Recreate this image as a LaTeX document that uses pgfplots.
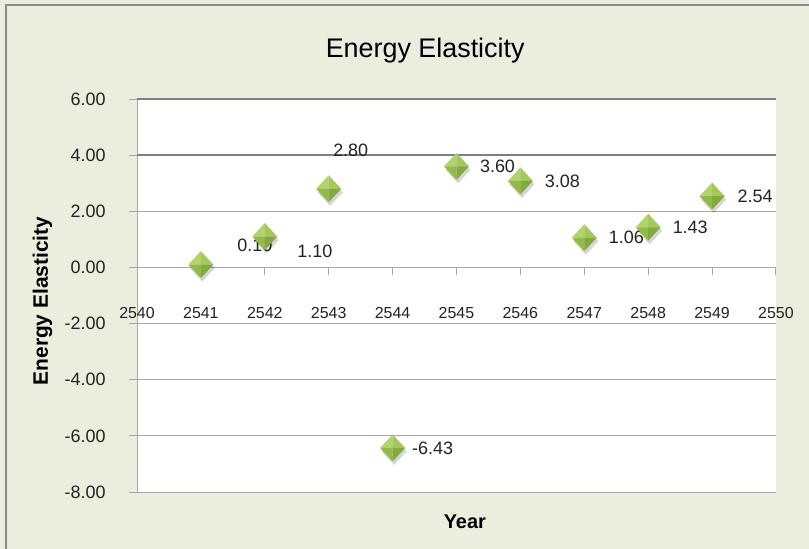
\documentclass[border=0pt]{standalone}
\usepackage{pgfplots}
\pgfplotsset{compat=1.18}
\usepackage{pgfplotstable}
\usepackage{fontspec}
\setmainfont{Liberation Sans}

\definecolor{chartbg}{HTML}{EBEEDF}
\definecolor{framegray}{HTML}{8A8A8A}
\definecolor{gridgray}{HTML}{A8A8A8}
\definecolor{griddark}{HTML}{7E7E7E}
\definecolor{gemA}{HTML}{B3D26C}
\definecolor{gemB}{HTML}{A3C85C}
\definecolor{gemC}{HTML}{94B94B}
\definecolor{gemD}{HTML}{84A93E}
\definecolor{labelgray}{HTML}{222222}

% faceted diamond marker with a soft drop shadow
\pgfdeclareplotmark{gem}{%
  \begin{pgfscope}
    \pgfsetfillopacity{0.16}\pgfsetfillcolor{black}
    \pgfpathmoveto{\pgfpoint{1.5bp}{10bp}}
    \pgfpathlineto{\pgfpoint{14bp}{-3.5bp}}
    \pgfpathlineto{\pgfpoint{1.5bp}{-17bp}}
    \pgfpathlineto{\pgfpoint{-11bp}{-3.5bp}}
    \pgfpathclose\pgfusepath{fill}
  \end{pgfscope}
  \pgfsetfillcolor{gemA}
  \pgfpathmoveto{\pgfpoint{0bp}{0bp}}\pgfpathlineto{\pgfpoint{0bp}{13.5bp}}\pgfpathlineto{\pgfpoint{-12.5bp}{0bp}}\pgfpathclose\pgfusepath{fill}
  \pgfsetfillcolor{gemB}
  \pgfpathmoveto{\pgfpoint{0bp}{0bp}}\pgfpathlineto{\pgfpoint{0bp}{13.5bp}}\pgfpathlineto{\pgfpoint{12.5bp}{0bp}}\pgfpathclose\pgfusepath{fill}
  \pgfsetfillcolor{gemC}
  \pgfpathmoveto{\pgfpoint{0bp}{0bp}}\pgfpathlineto{\pgfpoint{-12.5bp}{0bp}}\pgfpathlineto{\pgfpoint{0bp}{-13.5bp}}\pgfpathclose\pgfusepath{fill}
  \pgfsetfillcolor{gemD}
  \pgfpathmoveto{\pgfpoint{0bp}{0bp}}\pgfpathlineto{\pgfpoint{12.5bp}{0bp}}\pgfpathlineto{\pgfpoint{0bp}{-13.5bp}}\pgfpathclose\pgfusepath{fill}
}

% year, elasticity, label offsets (bp)
\pgfplotstableread{
year  value  dx  dy
2541  0.10   54  19
2542  1.10   50  -15
2543  2.80   22  38
2544  -6.43  40  0
2545  3.60   41  0
2546  3.08   42  0
2547  1.06   42  0
2548  1.43   42  0
2549  2.54   43  0
}\elasticity

\begin{document}
\begin{tikzpicture}
  \useasboundingbox (0,0) rectangle (809bp,549bp);
  \fill[chartbg] (0,0) rectangle (809bp,549bp);
  \draw[framegray, line width=2.2bp] (6bp,0) -- (6bp,544bp) -- (809bp,544bp);
  \begin{axis}[
    at={(137bp,57bp)}, anchor=south west,
    scale only axis, width=639bp, height=393bp,
    xmin=2540, xmax=2550, ymin=-8, ymax=6,
    xtick={2540,...,2550}, ytick={-8,-6,...,6},
    axis x line=middle, axis y line=left,
    hide obscured x ticks=false,
    x axis line style={-, gridgray, line width=0.9bp},
    y axis line style={-, gridgray, line width=0.9bp},
    axis background/.style={fill=white},
    tick align=outside, major tick length=8bp,
    tick style={gridgray, line width=0.9bp},
    ymajorgrids, grid style={gridgray, line width=0.9bp},
    extra y ticks={4,6}, extra y tick labels={},
    extra y tick style={grid style={griddark, line width=1.4bp}},
    /pgf/number format/assume math mode=true,
    xticklabel={\pgfmathprintnumber[1000 sep={},precision=0,fixed]{\tick}},
    yticklabel={\pgfmathprintnumber[fixed,fixed zerofill,precision=2]{\tick}},
    x tick label style={font=\fontsize{16}{18}\selectfont, text=labelgray, anchor=center, yshift=-38bp},
    y tick label style={font=\fontsize{18}{20}\selectfont, text=labelgray, xshift=-20bp},
    title={Energy Elasticity},
    title style={font=\fontsize{27}{30}\selectfont, at={(axis description cs:0.451,1.107)}, anchor=center},
    xlabel={Year},
    xlabel style={font=\bfseries\fontsize{20}{22}\selectfont, at={(axis description cs:0.513,-0.076)}, anchor=center},
    ylabel={Energy Elasticity},
    ylabel style={font=\bfseries\fontsize{21}{24}\selectfont, at={(axis description cs:-0.148,0.486)}, anchor=center, rotate=0},
    clip=false,
  ]
    \addplot[only marks, mark=gem,
      visualization depends on={\thisrow{dx}\as\dx},
      visualization depends on={\thisrow{dy}\as\dy},
      point meta=explicit,
      nodes near coords={\pgfmathprintnumber[fixed,fixed zerofill,precision=2]{\pgfplotspointmeta}},
      every node near coord/.style={anchor=center, font=\fontsize{18}{20}\selectfont, text=labelgray, xshift=\dx bp, yshift=\dy bp},
    ] table[x=year, y=value, meta=value] {\elasticity};
  \end{axis}
\end{tikzpicture}
\end{document}
